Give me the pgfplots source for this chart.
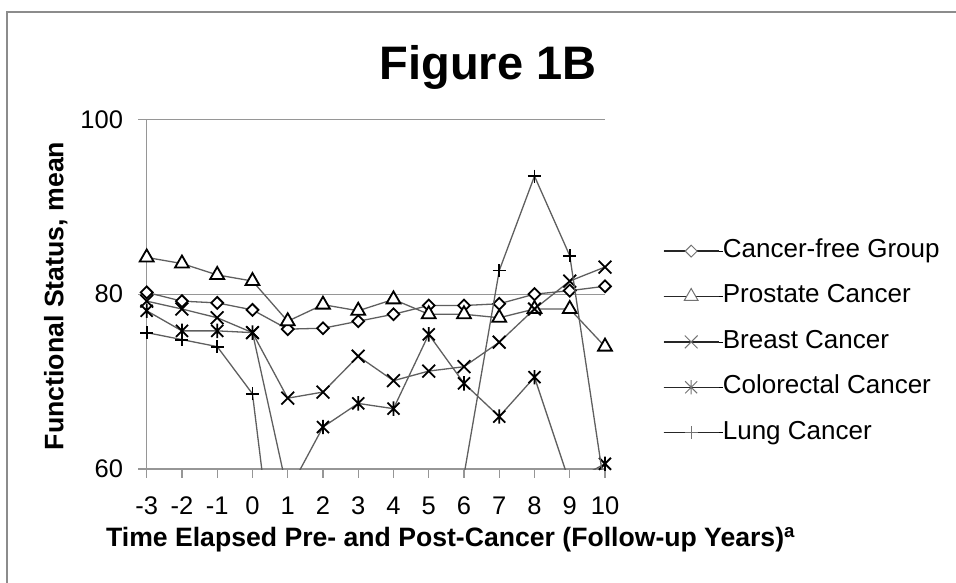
\documentclass[border=0pt]{standalone}
\usepackage{fontspec}
\setmainfont{Liberation Sans}
\usepackage{pgfplots}
\usepackage{pgfplotstable}
\pgfplotsset{compat=1.18}
\definecolor{gridgray}{RGB}{150,150,150}
\definecolor{linegray}{RGB}{95,95,95}
\definecolor{bordergray}{RGB}{140,140,140}

\pgfdeclareplotmark{xstar}{%
  \pgfpathmoveto{\pgfqpoint{-\pgfplotmarksize}{-\pgfplotmarksize}}%
  \pgfpathlineto{\pgfqpoint{\pgfplotmarksize}{\pgfplotmarksize}}%
  \pgfpathmoveto{\pgfqpoint{-\pgfplotmarksize}{\pgfplotmarksize}}%
  \pgfpathlineto{\pgfqpoint{\pgfplotmarksize}{-\pgfplotmarksize}}%
  \pgfpathmoveto{\pgfqpoint{0pt}{-1.2\pgfplotmarksize}}%
  \pgfpathlineto{\pgfqpoint{0pt}{1.2\pgfplotmarksize}}%
  \pgfusepathqstroke}

\pgfplotstableread{
x cf pr br co lu
-3 80.2 84.2 79.2 78.1 75.6
-2 79.2 83.5 78.3 75.8 74.8
-1 79.0 82.2 77.3 75.8 74.0
0 78.2 81.5 75.6 75.6 68.6
1 76.0 76.9 68.1 57.3 36.0
2 76.1 78.8 68.8 64.8 40.0
3 76.9 78.1 72.9 67.5 42.0
4 77.7 79.4 70.1 66.9 45.0
5 78.7 77.7 71.2 75.4 50.0
6 78.7 77.7 71.7 69.8 59.3
7 78.9 77.3 74.5 66.0 82.7
8 80.0 78.3 78.3 70.5 93.5
9 80.4 78.3 81.5 58.4 84.4
10 80.9 74.0 83.1 60.6 57.5
}\data

\pgfplotsset{
  serline/.style={linegray, line width=1.3pt, no marks, forget plot},
  sermark/.style={only marks, black, restrict y to domain=59.9:100.1},
}

\begin{document}
\begin{tikzpicture}[x=1pt,y=1pt]
\useasboundingbox (0,0) rectangle (956,582);
\draw[bordergray, line width=2pt] (6.7,-5) -- (6.7,570.3) -- (962,570.3);
\node[font=\fontsize{47}{56}\selectfont\bfseries, anchor=base, inner sep=0pt] at (488,502) {Figure 1B};
\begin{axis}[
  at={(146.7pt,113pt)}, anchor=south west,
  scale only axis, width=458.3pt, height=349.7pt,
  xmin=-3, xmax=10, ymin=60, ymax=100,
  axis lines*=left,
  axis line style={gridgray, line width=1.3pt},
  xtick={-3,-2,-1,0,1,2,3,4,5,6,7,8,9,10},
  xticklabels={-3,-2,-1,0,1,2,3,4,5,6,7,8,9,10},
  ytick={60,80,100},
  yticklabels={60,80,100},
  tick align=outside, major tick length=8.5pt,
  tick style={gridgray, line width=1.3pt},
  ymajorgrids, grid style={gridgray, line width=1.3pt},
  ticklabel style={font=\fontsize{25.5}{30}\selectfont},
  xticklabel style={inner sep=0pt, anchor=north, yshift=-19pt},
  yticklabel style={inner sep=0pt, anchor=east, xshift=-15pt},
  xlabel={Time Elapsed Pre- and Post-Cancer (Follow-up Years)\textsuperscript{a}},
  ylabel={Functional Status, mean},
  xlabel style={font=\fontsize{26.6}{31}\selectfont\bfseries, at={(axis description cs:0.663,-0.2222)}, anchor=base, inner sep=0pt},
  ylabel style={font=\fontsize{26.7}{31}\selectfont\bfseries, at={(axis description cs:-0.182,0.4947)}, anchor=base, inner sep=0pt},
  clip mode=individual,
  legend style={at={(1.1266,0.656)}, anchor=north west, draw=none, fill=none,
    inner sep=0pt, outer sep=0pt, row sep=22.4pt,
    font=\fontsize{26}{30}\selectfont,
    nodes={inner sep=0pt, text height=18pt, text depth=5pt}},
  legend cell align=left,
  legend image code/.code={
    \path (0pt,0pt) -- (59pt,0pt);
    \draw[black!85, line width=1.3pt] (0pt,0pt) -- (55pt,0pt);
    \draw[every mark/.append style={line width=1pt, draw=black!55}] plot coordinates {(27.5pt,0pt)};
  },
]
\addplot[serline] table[x=x,y=cf]{\data};
\addplot[sermark, mark=square*, mark size=4.2pt, mark options={rotate=45, fill=white, draw=black, line width=1.8pt, solid}] table[x=x,y=cf]{\data};
\addlegendentry{Cancer-free Group}
\addplot[serline] table[x=x,y=pr]{\data};
\addplot[sermark, mark=triangle*, mark size=8pt, mark options={fill=white, draw=black, line width=1.8pt, solid}] table[x=x,y=pr]{\data};
\addlegendentry{Prostate Cancer}
\addplot[serline] table[x=x,y=br]{\data};
\addplot[sermark, mark=x, mark size=9pt, mark options={draw=black, line width=1.8pt, solid}] table[x=x,y=br]{\data};
\addlegendentry{Breast Cancer}
\addplot[serline] table[x=x,y=co]{\data};
\addplot[sermark, mark=xstar, mark size=6pt, mark options={draw=black, line width=1.8pt, solid}] table[x=x,y=co]{\data};
\addlegendentry{Colorectal Cancer}
\addplot[serline] table[x=x,y=lu]{\data};
\addplot[sermark, mark=+, mark size=6.5pt, mark options={draw=black, line width=1.8pt, solid}] table[x=x,y=lu]{\data};
\addlegendentry{Lung Cancer}
\end{axis}
\end{tikzpicture}
\end{document}
